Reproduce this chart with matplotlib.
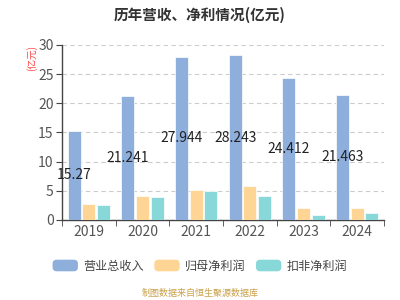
import matplotlib
matplotlib.use("Agg")
import matplotlib.pyplot as plt
from matplotlib.patches import Patch, FancyBboxPatch
from matplotlib.legend_handler import HandlerPatch
import numpy as np

plt.rcParams['font.family'] = ['Noto Sans CJK SC', 'DejaVu Sans']

years = ['2019', '2020', '2021', '2022', '2023', '2024']
revenue = [15.27, 21.241, 27.944, 28.243, 24.412, 21.463]
parent_profit = [2.65, 4.15, 5.1, 5.85, 2.0, 2.1]
deducted_profit = [2.6, 4.0, 5.0, 4.1, 0.85, 1.2]
series_names = ['营业总收入', '归母净利润', '扣非净利润']
colors = ['#8eaedc', '#fed594', '#88d7d9']


class RoundBox(HandlerPatch):
    def create_artists(self, legend, orig_handle, xdescent, ydescent,
                       width, height, fontsize, trans):
        p = FancyBboxPatch((-xdescent, -ydescent), width, height,
                           boxstyle='round,pad=0,rounding_size=3',
                           facecolor=orig_handle.get_facecolor(),
                           edgecolor='none', transform=trans)
        return [p]


fig = plt.figure(figsize=(4, 3), dpi=100)
ax = fig.add_axes([0.155, 0.267, 0.805, 0.583])

x = np.arange(len(years))
w = 0.245
gap = 0.027
for i, (vals, c) in enumerate(zip([revenue, parent_profit, deducted_profit], colors)):
    ax.bar(x + (i - 1) * (w + gap), vals, width=w, color=c,
           edgecolor='#ffffff', linewidth=0.5, zorder=3)

for xi, v in zip(x, revenue):
    ax.text(xi - (w + gap), v / 2, f'{v:g}', ha='center', va='center',
            fontsize=10, color='#222222', zorder=4)

ax.set_xlim(-0.5, len(years) - 0.5)
ax.set_ylim(0, 30)
ax.set_yticks([0, 5, 10, 15, 20, 25, 30])
ax.set_xticks(x)
ax.set_xticklabels(years)
ax.set_xticks(np.arange(-0.5, len(years), 1), minor=True)
ax.tick_params(axis='x', which='major', length=0, labelsize=10, colors='#555555', pad=4)
ax.tick_params(axis='x', which='minor', length=4, color='#444444')
ax.tick_params(axis='y', length=4, labelsize=10, colors='#555555', pad=2)
ax.tick_params(axis='y', color='#444444')
ax.grid(axis='y', linestyle=(0, (4, 3)), color='#cccccc', linewidth=0.8, zorder=0)
for s in ['top', 'right']:
    ax.spines[s].set_visible(False)
for s in ['left', 'bottom']:
    ax.spines[s].set_color('#444444')
    ax.spines[s].set_linewidth(1)

fig.text(0.5, 0.95, '历年营收、净利情况(亿元)', ha='center', va='center',
         fontsize=10.5, fontweight='bold', color='#333333')
fig.text(0.08, 0.807, '(亿元)', ha='center', va='center', rotation=90,
         fontsize=7, color='#ff4444')

handles = [Patch(facecolor=c, edgecolor='none') for c in colors]
fig.legend(handles, series_names, loc='center', bbox_to_anchor=(0.5, 0.113),
           ncol=3, frameon=False, fontsize=8.7, handlelength=2.1, handleheight=1.1,
           handletextpad=0.45, columnspacing=0.85, labelcolor='#444444',
           handler_map={Patch: RoundBox()})

fig.text(0.5, 0.022, '制图数据来自恒生聚源数据库', ha='center', va='center',
         fontsize=6.5, color='#c9a04a')

fig.savefig('out.png', dpi=100)
